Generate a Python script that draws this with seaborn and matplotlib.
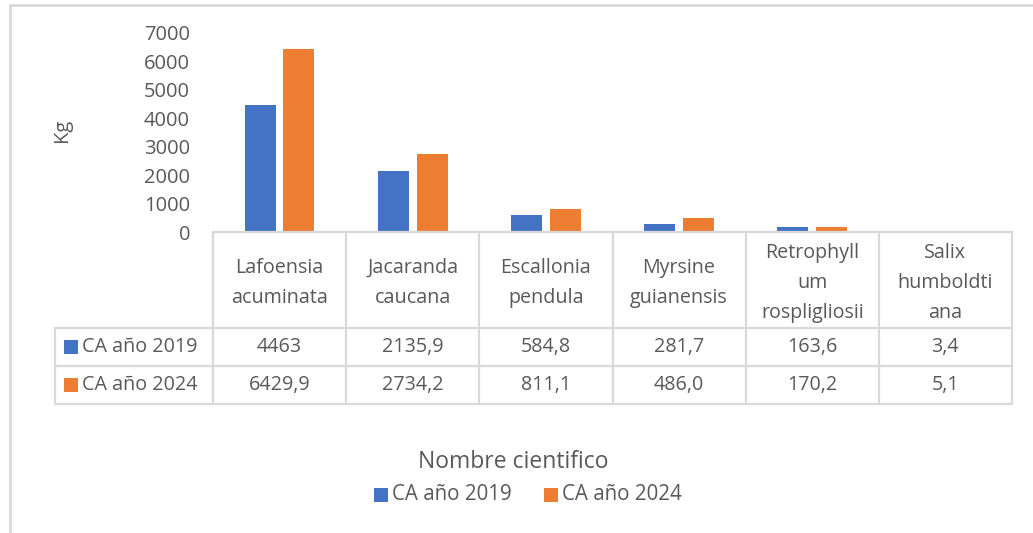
import matplotlib
matplotlib.use("Agg")
import matplotlib.pyplot as plt
import seaborn as sns
import pandas as pd
from matplotlib.lines import Line2D
from matplotlib.patches import Rectangle

categories = ["Lafoensia\nacuminata", "Jacaranda\ncaucana", "Escallonia\npendula",
              "Myrsine\nguianensis", "Retrophyll\num\nrospligliosii", "Salix\nhumboldti\nana"]
series_names = ["CA año 2019", "CA año 2024"]
values_2019 = [4463, 2135.9, 584.8, 281.7, 163.6, 3.4]
values_2024 = [6429.9, 2734.2, 811.1, 486.0, 170.2, 5.1]
labels_2019 = ["4463", "2135,9", "584,8", "281,7", "163,6", "3,4"]
labels_2024 = ["6429,9", "2734,2", "811,1", "486,0", "170,2", "5,1"]
yticks = [0, 1000, 2000, 3000, 4000, 5000, 6000, 7000]

colors = ["#4472C4", "#ED7D31"]
TXT = "#595959"
GRID = "#D9D9D9"

sns.set_theme(style="white")
plt.rcParams["font.family"] = ["Open Sans", "DejaVu Sans"]

W, H = 1033, 533
fig = plt.figure(figsize=(W / 100, H / 100), dpi=100)

def fx(px):
    return px / W

def fy(py):
    return 1 - py / H

ax_left, ax_right, ax_top, ax_bot = 213, 1012, 33, 232
ax = fig.add_axes([fx(ax_left), fy(ax_bot), fx(ax_right - ax_left), (ax_bot - ax_top) / H])

df = pd.DataFrame({
    "cat": categories * 2,
    "serie": [series_names[0]] * 6 + [series_names[1]] * 6,
    "val": values_2019 + values_2024,
})
sns.barplot(data=df, x="cat", y="val", hue="serie", order=categories,
            hue_order=series_names, palette=colors, width=0.58, gap=0.2,
            ax=ax, legend=False, saturation=1, linewidth=0)
ax.set_xlim(-0.5, len(categories) - 0.5)
ax.set_ylim(0, 7000)
ax.set_yticks(yticks)
ax.set_yticklabels([str(v) for v in yticks], fontsize=14.5, color=TXT)
ax.tick_params(axis="y", length=0, pad=16.5)
ax.set_xticks([])
ax.set_xlabel("")
ax.set_ylabel("")
for s in ax.spines.values():
    s.set_visible(False)

# axis title
fig.text(fx(62), fy(130), "Kg", rotation=90, ha="center", va="center", fontsize=14.5, color=TXT)

# table
col_edges = [ax_left + i * (ax_right - ax_left) / len(categories) for i in range(len(categories) + 1)]
row_edges = [232, 328, 366, 404]
label_left = 55

def hline(x0, x1, y):
    fig.add_artist(Line2D([fx(x0), fx(x1)], [fy(y), fy(y)], color=GRID, lw=1.6))

def vline(x, y0, y1):
    fig.add_artist(Line2D([fx(x), fx(x)], [fy(y0), fy(y1)], color=GRID, lw=1.6))

hline(ax_left, ax_right, row_edges[0])
for y in row_edges[1:]:
    hline(label_left, ax_right, y)
for x in col_edges:
    vline(x, row_edges[0], row_edges[3])
vline(label_left, row_edges[1], row_edges[3])

for i, cat in enumerate(categories):
    cx = (col_edges[i] + col_edges[i + 1]) / 2
    fig.text(fx(cx), fy((row_edges[0] + row_edges[1]) / 2 + 3), cat, ha="center", va="center",
             fontsize=14.2, color=TXT, linespacing=1.65)
    fig.text(fx(cx), fy((row_edges[1] + row_edges[2]) / 2), labels_2019[i], ha="center",
             va="center", fontsize=14.2, color=TXT)
    fig.text(fx(cx), fy((row_edges[2] + row_edges[3]) / 2), labels_2024[i], ha="center",
             va="center", fontsize=14.2, color=TXT)

for r, (name, col) in enumerate(zip(series_names, colors)):
    yc = (row_edges[r + 1] + row_edges[r + 2]) / 2
    fig.add_artist(Rectangle((fx(64), fy(yc + 7)), fx(14), 14 / H, color=col, lw=0))
    fig.text(fx(82), fy(yc), name, ha="left", va="center", fontsize=14.2, color=TXT)

# x axis title
fig.text(fx(513), fy(462), "Nombre cientifico", ha="center", va="center", fontsize=16.5, color=TXT)

# legend
leg_items = [(374, series_names[0], colors[0]), (544, series_names[1], colors[1])]
for x0, name, col in leg_items:
    fig.add_artist(Rectangle((fx(x0), fy(502)), fx(14), 14 / H, color=col, lw=0))
    fig.text(fx(x0 + 18), fy(495), name, ha="left", va="center", fontsize=14.8, color=TXT)

# outer frame
fig.add_artist(Line2D([fx(10), fx(10)], [fy(5), 0], color=GRID, lw=2))
fig.add_artist(Line2D([fx(10), 1], [fy(5), fy(5)], color=GRID, lw=2))

fig.savefig("out.png", dpi=100, facecolor="white")
